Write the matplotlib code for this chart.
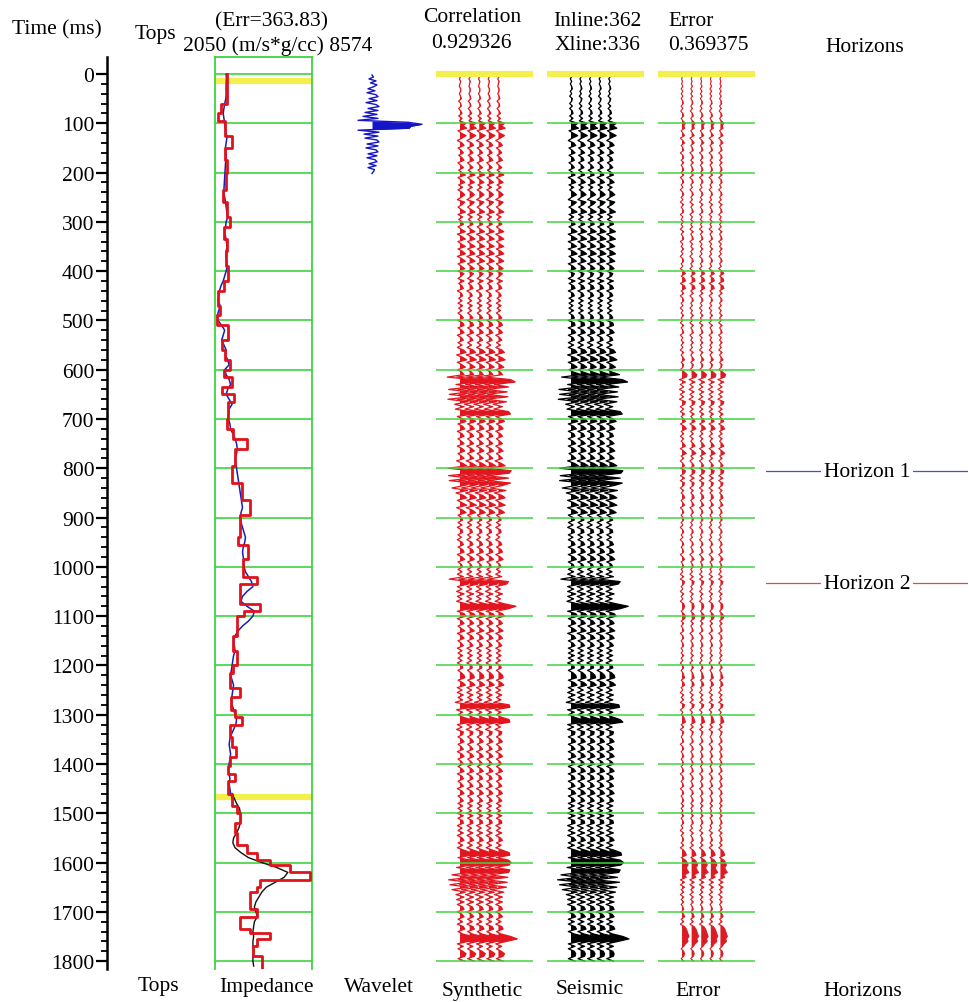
import numpy as np
import matplotlib.pyplot as plt

plt.rcParams['font.family'] = ['Liberation Serif', 'DejaVu Serif']

# ---- data ----
time_ticks = np.arange(0, 1801, 100)
tops_times = [15, 1467]
horizon_times = [806, 1033]
horizon_names = ['Horizon 1', 'Horizon 2']

# inverted impedance (blocky red), tops of each block in ms
red_tops = [0, 60, 80, 95, 125, 150, 175, 200, 235, 260,
            290, 310, 335, 360, 390, 420, 440, 470, 490, 510,
            540, 560, 580, 600, 615, 635, 650, 665, 700, 720,
            740, 760, 795, 830, 865, 895, 940, 955, 985, 1020,
            1035, 1075, 1090, 1100, 1140, 1170, 1200, 1215, 1245, 1265,
            1290, 1305, 1320, 1345, 1365, 1385, 1405, 1420, 1435, 1460,
            1485, 1500, 1520, 1540, 1565, 1580, 1595, 1605, 1620, 1635,
            1650, 1660, 1695, 1710, 1735, 1742, 1755, 1770, 1790]
red_end = 1815
red_imp = [2860, 2450, 2250, 2720, 3200, 2720, 2860, 2790, 2590, 2860,
           3060, 2650, 2860, 2790, 2920, 2650, 2250, 2390, 2180, 2920,
           2520, 2720, 3060, 2650, 3200, 2520, 3330, 2920, 2860, 3260,
           4200, 3400, 3200, 3865, 4400, 3730, 3600, 4300, 3900, 4870,
           3730, 5080, 4000, 3530, 3260, 3530, 3260, 3060, 3730, 3100,
           3400, 3860, 3060, 3200, 3450, 3060, 2900, 3400, 2920, 3200,
           3530, 3730, 3400, 3530, 4200, 4875, 5750, 7100, 8440, 5080,
           4875, 4400, 4875, 3730, 4400, 5750, 4875, 4600, 5200]

# well log (blue), 0-1470 ms every 10 ms
blue_imp = [2800, 2820, 2800, 2790, 2800, 2780, 2700, 2650, 2600, 2650,
            2700, 2750, 2800, 2850, 2800, 2750, 2780, 2800, 2760, 2740,
            2720, 2700, 2680, 2660, 2640, 2700, 2760, 2800, 2850, 2900,
            2800, 2760, 2700, 2760, 2820, 2860, 2800, 2780, 2820, 2880,
            2800, 2700, 2600, 2450, 2350, 2300, 2250, 2400, 2300, 2200,
            2250, 2500, 2700, 2600, 2500, 2650, 2800, 2750, 2900, 3000,
            2700, 2800, 3000, 3100, 2900, 2800, 3000, 3200, 3000, 2950,
            2950, 3050, 3100, 3250, 3400, 3500, 3550, 3500, 3400, 3450,
            3500, 3550, 3600, 3650, 3700, 3750, 3800, 3850, 3900, 3800,
            3750, 3800, 3900, 4000, 4100, 4050, 3950, 3900, 3950, 4000,
            4000, 4100, 4300, 4500, 4600, 4200, 3900, 3800, 4200, 4700,
            4600, 4300, 3900, 3600, 3400, 3300, 3350, 3400, 3300, 3250,
            3200, 3150, 3100, 3200, 3300, 3250, 3200, 3150, 3200, 3300,
            3400, 3500, 3450, 3300, 3150, 3050, 3000, 3050, 3100, 3050,
            3000, 2950, 3000, 3050, 3000, 3050, 3100, 3200]
blue_t0 = 0

# model / log (black), 1460-1810 ms every 10 ms
black_imp = [3200, 3350, 3500, 3700, 3750, 3800, 3750, 3650, 3500, 3300,
             3250, 3400, 3800, 4300, 5200, 6200, 6950, 6700, 6100, 5500,
             5200, 5000, 4800, 4700, 4800, 4900, 4700, 4650, 4600, 4650,
             4600, 4600, 4650, 4600, 4600, 4650]
black_t0 = 1460

# wavelet, lag -100..100 ms every 4 ms
wav_center = 102
wav_amp = [0, 0.03, -0.06, 0.08, -0.03, 0.1, 0.03, -0.08, 0.06, -0.1,
           0.08, 0.12, -0.06, 0.1, -0.12, 0.08, 0.14, -0.08, 0.12, -0.14,
           0.1, -0.18, 0.12, -0.28, 0.72, 1.0, 0.78, 0.74, -0.28, 0.14,
           -0.16, 0.12, -0.14, 0.1, 0.14, -0.1, 0.12, -0.12, 0.08, 0.12,
           -0.08, 0.1, -0.1, 0.06, 0.1, -0.06, 0.08, -0.08, 0.05, 0.03, 0]

# traces, 0-1800 ms every 5 ms
syn_amp = [
    0, 0.1, -0.1, 0.1, 0, -0.1, 0.1, 0.1, -0.1, 0.1, 0.2, -0.2, 0.1, 0.2, -0.2, 0.1, 0.3, -0.2, 0.3, -0.1,
    0.9, 0.4, 1.0, -0.3, 0.2, 0.9, 0.3, -0.4, 0.3, 0.6, -0.3, 0.2, 0.5, -0.2, 0.3, 0.6, -0.3, 0.1, 0.5, -0.2,
    0.3, 0.8, -0.3, 0.2, 0.7, -0.2, 0.4, -0.3, 0.3, 0.7, 0.2, -0.4, 0.7, 0.3, -0.3, 0.2, 0.8, -0.3, 0.4, -0.2,
    0.3, 0.5, -0.3, 0.2, 0.8, -0.4, 0.3, 0.8, -0.3, 0.2, 0.8, -0.3, 0.4, 0.8, -0.4, 0.3, 0.8, -0.3, 0.2, 0.7,
    -0.3, 0.6, 0.2, -0.3, 0.6, -0.2, 0.3, 0.5, -0.4, 0.2, 0.4, -0.2, 0.3, -0.3, 0.4, -0.2, 0.3, -0.3, 0.2, 0.5,
    -0.3, 0.4, 0.6, -0.3, 0.3, 0.6, -0.4, 0.2, 0.5, -0.3, 0.3, -0.4, 0.5, 0.9, -0.5, 0.4, 1.0, -0.4, 0.3, 0.8,
    -0.4, 0.3, 0.6, -1.9, 1.8, 2.5, -0.6, 1.5, -1.7, 1.3, -1.6, 1.4, -1.8, 1.2, -0.8, 0.6, -0.7, 1.5, 1.8, -0.4,
    0.5, 0.9, -0.3, 0.4, 0.7, -0.4, 0.3, 0.6, -0.3, 0.2, 0.6, -0.4, 0.3, 0.7, -0.3, 0.2, 0.6, -0.5, 0.4, 1.0,
    -1.8, 1.9, 1.6, -1.7, 1.5, -1.6, 1.8, 0.6, -1.2, 1.1, -0.6, 0.5, 1.0, -0.4, 0.3, 1.0, -0.5, 0.4, 0.9, -0.3,
    0.2, 0.4, -0.3, 0.3, -0.4, 0.3, 0.4, -0.3, 0.2, -0.4, 0.3, 0.5, -0.3, 0.4, 0.6, -0.4, 0.3, 0.7, -0.3, 0.2,
    0.4, -0.3, 0.3, -0.4, 0.5, -1.6, 1.5, 1.2, -0.4, 0.3, -0.5, 0.6, -0.4, 0.3, -0.5, 0.9, 2.6, 1.5, -0.4, 0.6,
    0.9, -0.4, 0.3, 0.6, -0.3, 0.2, 0.7, -0.4, 0.3, 0.6, -0.3, 0.2, 0.5, -0.4, 0.3, -0.3, 0.4, -0.3, 0.3, -0.4,
    0.3, 0.4, -0.3, 0.2, 0.6, 0.7, -0.3, 0.4, 0.8, -0.4, 0.3, -0.4, 0.5, -0.3, 0.4, -0.7, 1.6, 1.7, -0.5, 0.4,
    -0.3, 0.4, 1.6, 1.7, -0.4, 0.3, -0.5, 0.5, 0.4, -0.3, 0.3, 0.6, -0.3, 0.2, 0.5, -0.4, 0.3, 0.6, -0.3, 0.2,
    0.5, -0.3, 0.3, 0.6, -0.4, 0.3, 0.5, -0.3, 0.2, 0.5, -0.4, 0.3, 0.6, -0.3, 0.2, 0.5, -0.3, 0.4, -0.3, 0.3,
    -0.4, 0.5, -0.3, 0.4, 0.5, -0.4, 0.3, -0.3, 0.5, -0.4, 0.3, 0.6, -0.3, 0.4, -0.4, 0.6, 1.6, 1.7, -0.3, 1.5,
    1.9, 1.6, -0.5, 1.7, 1.5, -1.2, 1.4, -1.7, 1.3, -1.5, 1.2, -1.2, 0.8, -0.6, 0.6, -0.5, 0.6, -0.4, 0.4, 0.6,
    -0.4, 0.3, 0.6, -0.3, 0.4, -0.4, 0.5, 0.7, -0.3, 0.4, 1.8, 2.8, 1.2, -0.4, 0.5, -0.3, 0.4, 0.9, 0.7, -0.3,
    0.7]
seis_amp = [
    0, 0.1, -0.1, 0.1, -0.1, 0.1, 0.2, -0.1, 0.1, -0.2, 0.2, 0.1, -0.2, 0.2, -0.2, 0.2, 0.3, -0.2, 0.3, -0.2,
    1.0, 0.5, 1.1, -0.3, 0.3, 1.0, 0.2, -0.4, 0.4, 0.7, -0.3, 0.2, 0.6, -0.3, 0.3, 0.5, -0.3, 0.2, 0.5, -0.3,
    0.3, 0.6, -0.4, 0.3, 0.7, -0.3, 0.4, -0.2, 0.4, 0.8, 0.1, -0.4, 0.8, 0.4, -0.3, 0.3, 0.9, -0.3, 0.4, -0.3,
    0.4, 0.6, -0.3, 0.3, 0.9, -0.4, 0.3, 0.9, -0.4, 0.3, 0.8, -0.4, 0.4, 0.9, -0.3, 0.3, 0.8, -0.4, 0.3, 0.7,
    -0.4, 0.5, 0.3, -0.4, 0.6, -0.3, 0.4, 0.6, -0.4, 0.3, 0.5, -0.3, 0.4, -0.3, 0.3, -0.3, 0.4, -0.3, 0.3, 0.5,
    -0.4, 0.5, 0.6, -0.4, 0.4, 0.7, -0.4, 0.3, 0.5, -0.4, 0.4, -0.4, 0.6, 0.9, -0.5, 0.5, 1.1, -0.4, 0.4, 0.9,
    -0.3, 0.4, 1.5, -1.4, 1.9, 2.7, -0.5, 1.4, -1.8, 1.2, -1.7, 1.3, -1.9, 1.1, -0.8, 0.5, -0.6, 1.6, 1.9, -0.4,
    0.6, 1.0, -0.4, 0.4, 0.8, -0.4, 0.4, 0.6, -0.4, 0.3, 0.7, -0.4, 0.4, 0.8, -0.3, 0.3, 0.7, -0.5, 0.5, 1.1,
    -1.7, 2.0, 1.7, -1.6, 1.6, -1.7, 1.9, 0.7, -1.3, 1.2, -0.7, 0.5, 1.1, -0.5, 0.4, 1.1, -0.5, 0.4, 1.0, -0.4,
    0.3, 0.5, -0.4, 0.3, -0.5, 0.4, 0.5, -0.4, 0.3, -0.4, 0.4, 0.6, -0.4, 0.4, 0.7, -0.4, 0.4, 0.8, -0.4, 0.3,
    0.5, -0.4, 0.4, -0.5, 0.6, -1.5, 1.6, 1.3, -0.5, 0.4, -0.5, 0.7, -0.5, 0.4, -0.6, 1.0, 2.8, 1.6, -0.5, 0.7,
    1.0, -0.4, 0.4, 0.7, -0.4, 0.3, 0.8, -0.5, 0.4, 0.7, -0.4, 0.3, 0.6, -0.4, 0.4, -0.4, 0.5, -0.4, 0.4, -0.5,
    0.4, 0.5, -0.4, 0.3, 0.7, 0.8, -0.4, 0.5, 0.9, -0.4, 0.4, -0.5, 0.6, -0.4, 0.5, -0.7, 1.4, 1.5, -0.5, 0.5,
    -0.4, 0.5, 1.6, 2.0, -0.5, 0.4, -0.5, 0.6, 0.5, -0.4, 0.4, 0.7, -0.4, 0.3, 0.6, -0.4, 0.4, 0.7, -0.4, 0.3,
    0.6, -0.4, 0.4, 0.7, -0.4, 0.4, 0.6, -0.4, 0.3, 0.6, -0.4, 0.4, 0.7, -0.4, 0.3, 0.6, -0.4, 0.5, -0.4, 0.4,
    -0.5, 0.6, -0.4, 0.5, 0.6, -0.5, 0.4, -0.4, 0.6, -0.5, 0.4, 0.7, -0.4, 0.5, -0.5, 0.7, 1.7, 1.8, -0.4, 1.6,
    2.1, 1.7, -0.6, 1.6, 1.4, -1.5, 1.2, -2.0, 1.5, -1.7, 1.1, -1.3, 0.9, -0.7, 0.6, -0.5, 0.7, -0.5, 0.5, 0.7,
    -0.5, 0.4, 0.7, -0.4, 0.5, -0.4, 0.6, 0.8, -0.4, 0.5, 2.0, 2.9, 1.3, -0.4, 0.6, -0.4, 0.5, 0.7, 0.6, -0.4,
    0.6]
err_amp = [
    0, 0.05, -0.05, 0.05, -0.05, 0.1, -0.1, 0.1, -0.1, 0.1, -0.1, 0.1, 0.15, -0.1, 0.1, -0.15, 0.1, 0.2, -0.1, 0.1,
    0.4, 0.2, 0.3, -0.1, 0.1, 0.3, -0.2, 0.1, 0.3, -0.1, 0.1, 0.2, -0.2, 0.1, 0.2, -0.1, 0.2, -0.1, 0.1, 0.2,
    -0.1, 0.2, -0.2, 0.1, 0.2, -0.1, 0.1, -0.2, 0.1, 0.2, -0.1, 0.1, -0.2, 0.2, -0.1, 0.1, 0.2, -0.2, 0.1, -0.1,
    0.2, -0.1, 0.1, -0.2, 0.2, -0.1, 0.1, 0.2, -0.2, 0.1, -0.1, 0.2, -0.1, 0.1, -0.2, 0.1, 0.2, -0.1, 0.1, -0.2,
    0.2, 0.4, -0.1, 0.3, 0.4, -0.2, 0.3, 0.4, -0.1, 0.2, -0.2, 0.1, 0.2, -0.1, 0.1, -0.2, 0.1, -0.1, 0.2, -0.1,
    0.1, -0.2, 0.2, -0.1, 0.1, 0.2, -0.2, 0.1, -0.1, 0.2, -0.1, 0.1, -0.2, 0.2, -0.1, 0.1, 0.3, -0.1, 0.2, 0.1,
    -0.2, 0.3, 0.6, 0.5, -0.3, 0.4, -0.2, 0.2, -0.3, 0.3, -0.2, 0.2, -0.3, 0.4, 0.3, -0.2, 0.2, -0.2, 0.3, -0.1,
    0.2, 0.4, -0.2, 0.3, 0.5, -0.1, 0.2, -0.2, 0.2, -0.1, 0.2, 0.4, -0.2, 0.2, 0.5, -0.1, 0.2, -0.2, 0.1, 0.3,
    -0.2, 0.4, 0.3, -0.2, 0.3, -0.2, 0.3, 0.2, -0.2, 0.2, -0.1, 0.2, 0.3, -0.1, 0.1, 0.3, -0.2, 0.1, 0.2, -0.1,
    0.1, 0.2, -0.1, 0.1, -0.2, 0.1, 0.2, -0.1, 0.1, -0.2, 0.1, 0.2, -0.1, 0.1, 0.2, -0.2, 0.1, 0.3, -0.1, 0.1,
    0.2, -0.1, 0.1, -0.2, 0.2, -0.2, 0.3, 0.2, -0.1, 0.1, -0.2, 0.2, -0.1, 0.1, -0.2, 0.2, 0.3, 0.2, -0.1, 0.2,
    0.4, 0.3, -0.1, 0.2, -0.1, 0.1, 0.2, -0.2, 0.1, 0.2, -0.1, 0.1, 0.2, -0.1, 0.1, -0.1, 0.2, -0.1, 0.1, -0.2,
    0.1, 0.2, -0.1, 0.1, 0.2, 0.3, -0.1, 0.2, 0.3, -0.1, 0.1, -0.2, 0.2, -0.1, 0.2, -0.2, 0.3, 0.2, -0.2, 0.1,
    -0.1, 0.2, 0.3, 0.4, -0.1, 0.2, -0.2, 0.2, 0.1, -0.1, 0.1, 0.2, -0.2, 0.1, 0.2, -0.1, 0.1, 0.2, -0.1, 0.1,
    0.2, -0.1, 0.1, 0.2, -0.2, 0.1, 0.2, -0.1, 0.1, 0.2, -0.2, 0.1, 0.2, -0.1, 0.1, 0.2, -0.1, 0.2, -0.1, 0.1,
    -0.1, 0.2, -0.1, 0.1, 0.2, -0.1, 0.1, -0.2, 0.2, -0.1, 0.1, 0.2, -0.1, 0.2, -0.2, 0.2, 0.4, 0.5, -0.1, 0.4,
    0.6, 0.7, 0.5, 0.6, 0.8, 0.3, 0.5, -0.2, 0.3, -0.2, 0.3, -0.1, 0.2, -0.2, 0.2, -0.1, 0.2, -0.1, 0.1, 0.2,
    -0.1, 0.2, 0.3, -0.1, 0.2, -0.2, 0.3, 0.5, 0.6, 0.7, 0.8, 0.6, 0.7, 0.4, 0.2, -0.1, 0.2, 0.3, 0.2, -0.1,
    0.2]
trace_dt = 5
n_traces = 5

# ---- layout ----
W, H = 970, 1003
Y0, Y1 = 58, 970
T_TOP, T_BOT = -34.5, 1816
GREEN = '#3ed43e'
YELLOW = '#f2ef4e'
FS = 15.5

fig = plt.figure(figsize=(W / 100, H / 100), dpi=100)


def panel(x0, x1):
    ax = fig.add_axes([x0 / W, 1 - Y1 / H, (x1 - x0) / W, (Y1 - Y0) / H])
    ax.set_ylim(T_BOT, T_TOP)
    ax.set_xticks([])
    ax.set_yticks([])
    for s in ax.spines.values():
        s.set_visible(False)
    ax.patch.set_alpha(0)
    return ax


def ftext(x, y, s, ha='center'):
    fig.text(x / W, 1 - y / H, s, ha=ha, va='center', fontsize=FS)


# time axis
ax_t = panel(107, 140)
ax_t.spines['left'].set_visible(True)
ax_t.spines['left'].set_linewidth(1.8)
ax_t.set_yticks(time_ticks)
ax_t.set_yticks(np.arange(0, 1801, 20), minor=True)
ax_t.tick_params(axis='y', which='major', length=8, width=1.6, labelsize=FS, pad=1)
ax_t.tick_params(axis='y', which='minor', length=4.5, width=1.3)

# impedance track
ax_imp = panel(215, 312)
ax_imp.set_xlim(2050, 8574)
for side in ['left', 'right', 'top']:
    ax_imp.spines[side].set_visible(True)
    ax_imp.spines[side].set_color(GREEN)
    ax_imp.spines[side].set_linewidth(1.3)
for t in time_ticks:
    ax_imp.axhline(t, color=GREEN, lw=1.2, zorder=1)
for t in tops_times:
    ax_imp.axhline(t, color=YELLOW, lw=4.5, zorder=1.5)
bt = blue_t0 + 10 * np.arange(len(blue_imp))
ax_imp.plot(blue_imp, bt, color='#1c1cb0', lw=1.1, zorder=3)
kt = black_t0 + 10 * np.arange(len(black_imp))
ax_imp.plot(black_imp, kt, color='#111111', lw=1.0, zorder=3)
bounds = np.array(red_tops + [red_end])
ry = np.column_stack([bounds[:-1], bounds[1:]]).ravel()
rx = np.repeat(red_imp, 2)
ax_imp.plot(rx, ry, color='#e0121c', lw=2.0, zorder=4)

# wavelet
ax_w = panel(340, 440)
ax_w.set_xlim(-0.64, 1.36)
wa = np.array(wav_amp)
wt = wav_center + 4 * np.arange(len(wa)) - 100
ax_w.plot(wa, wt, color='#1515c8', lw=1.0)
ax_w.fill_betweenx(wt, 0, wa, where=wa > 0.3, interpolate=True, color='#1515c8', lw=0)

# trace panels
t_tr = trace_dt * np.arange(len(syn_amp))


def trace_panel(x0, amp, color, lw, gain):
    ax = panel(x0, x0 + 97)
    ax.set_xlim(-2.5, 7.6)
    a = gain * np.array(amp)
    for k in range(n_traces):
        ax.plot(k + a, t_tr, color=color, lw=lw, zorder=2, clip_on=False)
        ax.fill_betweenx(t_tr, k, k + a, where=a > 0, interpolate=True,
                         color=color, lw=0, zorder=2, clip_on=False)
    for t in time_ticks[1:]:
        ax.axhline(t, color=GREEN, lw=1.1, zorder=3)
    ax.axhline(0, color=YELLOW, lw=4.5, zorder=3)
    return ax


trace_panel(436, syn_amp, '#e3161f', 0.9, 0.7)
trace_panel(547, seis_amp, '#000000', 0.9, 0.7)
trace_panel(658, err_amp, '#dc1c24', 0.8, 0.9)

# horizons column
ax_h = panel(766, 968)
ax_h.set_xlim(0, 1)
for t, name, c in zip(horizon_times, horizon_names, ['#4a4ae0', '#e04a4a']):
    ax_h.axhline(t, color=c, lw=0.9)
    ax_h.text(0.5, t, name, ha='center', va='center', fontsize=FS,
              bbox=dict(boxstyle='square,pad=0.12', fc='white', ec='none'))

# headers
ftext(57, 30, 'Time (ms)')
ftext(155, 34, 'Tops')
ftext(272, 22, '(Err=363.83)')
ftext(278, 46, '2050 (m/s*g/cc) 8574')
ftext(472, 18, 'Correlation')
ftext(471, 43, '0.929326')
ftext(597, 22, 'Inline:362')
ftext(597, 46, 'Xline:336')
ftext(668, 22, 'Error', ha='left')
ftext(668, 46, '0.369375', ha='left')
ftext(865, 47, 'Horizons')

# footers
ftext(158, 987, 'Tops')
ftext(266, 988, 'Impedance')
ftext(379, 988, 'Wavelet')
ftext(482, 992, 'Synthetic')
ftext(590, 990, 'Seismic')
ftext(698, 992, 'Error')
ftext(863, 992, 'Horizons')

fig.savefig('out.png', dpi=100)
